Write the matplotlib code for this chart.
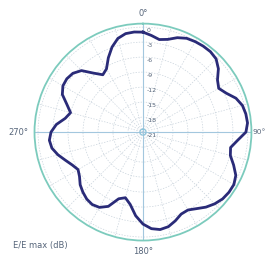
# -*- coding: utf-8 -*-
"""Polar radiation pattern, E/E max in dB."""

import matplotlib
matplotlib.use("Agg")
import matplotlib.pyplot as plt
import numpy as np

# pattern, every 5 degrees (clockwise from north)
angles_deg = list(range(0, 361, 5))
gain_db = [
    -1.0, -1.6, -2.2, -1.8, -0.9, -0.3, -0.1, 0.0, 0.0, -0.3,
    -1.3, -2.8, -3.5, -2.6, -1.2, -0.4, -0.1, 0.0, -0.4, -2.0,
    -3.2, -2.9, -1.7, -0.5, 0.0, 0.0, -0.2, -0.7, -1.4, -2.3,
    -3.0, -2.9, -2.1, -1.4, -1.2, -1.6, -2.6, -4.2, -6.3, -7.4,
    -6.8, -4.6, -3.6, -3.3, -3.5, -4.0, -4.6, -5.5, -6.0, -5.4,
    -4.5, -3.4, -2.5, -2.2, -2.6, -3.6, -5.2, -6.0, -4.8, -3.2,
    -2.5, -2.4, -2.7, -3.6, -5.6, -7.0, -6.4, -4.6, -2.9, -1.6,
    -1.0, -0.9, -1.0,
]
r_ticks = [0, -3, -6, -9, -12, -15, -18, -21]
cardinal_deg = [0, 90, 180, 270]
cardinal_labels = ["0°", "90°", "180°", "270°"]

r_min, r_max = -21, 0.7
text_col = "#56657a"

fig = plt.figure(figsize=(2.65, 2.54), dpi=100)
ax = fig.add_axes([0.130, 0.053, 0.819, 0.854], projection="polar")
ax.set_theta_zero_location("N")
ax.set_theta_direction(-1)
ax.set_rlim(r_min, r_max)

# faint grid
ax.set_xticks(np.deg2rad(np.arange(0, 360, 15)))
ax.set_xticklabels([])
ax.set_yticks(r_ticks)
ax.set_yticklabels([])
ax.grid(True, color="#c9d3dc", lw=0.5, ls=(0, (2, 2)))
ax.spines["polar"].set_color("#7ccbbd")
ax.spines["polar"].set_linewidth(1.3)

# cross hair
for a in cardinal_deg:
    ax.plot([np.deg2rad(a)] * 2, [r_min, r_max], color="#a3c7de", lw=0.8)
ring = np.linspace(0, 2 * np.pi, 60)
ax.plot(ring, np.full_like(ring, r_min + 0.6), color="#8cc4dc", lw=0.8)

# pattern
ax.plot(np.deg2rad(angles_deg), gain_db, color="#2a2b78", lw=2.0)

# radial labels along the 0° axis
for v in r_ticks:
    ax.annotate(str(v), (0, v), xytext=(2.5, -2.5), textcoords="offset points",
                fontsize=4.5, color=text_col, ha="left", va="center",
                annotation_clip=False)

# angle labels
offsets = {0: ("center", "bottom", 1.2), 90: ("left", "center", 0.3),
           180: ("center", "top", 1.2), 270: ("right", "center", 1.2)}
sizes = {0: 6, 90: 5.3, 180: 6, 270: 6}
for a, lab in zip(cardinal_deg, cardinal_labels):
    ha, va, pad = offsets[a]
    ax.text(np.deg2rad(a), r_max + pad, lab, fontsize=sizes[a], color=text_col,
            ha=ha, va=va, clip_on=False)

fig.text(0.05, 0.022, "E/E max (dB)", fontsize=6, color=text_col)

fig.savefig("out.png", dpi=100)
